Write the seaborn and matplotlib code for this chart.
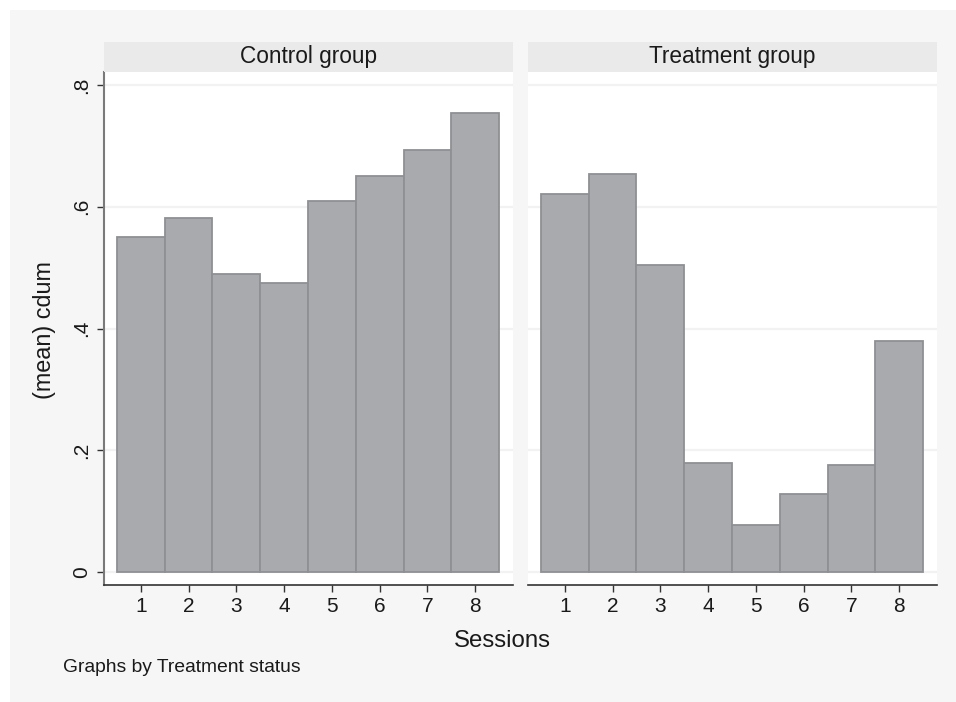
import pandas as pd
import matplotlib
matplotlib.use('Agg')
import matplotlib.pyplot as plt
import seaborn as sns
from matplotlib.patches import Rectangle

sessions = ['1', '2', '3', '4', '5', '6', '7', '8']
control_vals = [0.550, 0.582, 0.490, 0.474, 0.609, 0.650, 0.693, 0.754]
treatment_vals = [0.621, 0.654, 0.504, 0.179, 0.077, 0.128, 0.176, 0.379]
panel_titles = ['Control group', 'Treatment group']
y_ticks = [0, 0.2, 0.4, 0.6, 0.8]
y_tick_labels = ['0', '.2', '.4', '.6', '.8']

sns.set_style('white')
plt.rcParams['font.family'] = ['Liberation Sans', 'DejaVu Sans']

W, H = 956, 702
fig = plt.figure(figsize=(W / 100, H / 100), dpi=100, facecolor='white')

# light gray graph region (white margin top/left)
fig.patches.append(Rectangle((10 / W, 0), 1 - 10 / W, 1 - 10 / H,
                             transform=fig.transFigure, facecolor='#f6f6f6',
                             edgecolor='none', zorder=-10))

bar_color = '#a9aaae'
edge_color = '#8f9094'


def fx(px):
    return px / W


def fy(py):
    return 1 - py / H


panel_lefts = [104, 528]
panel_w = 409
top_y, bottom_y, strip_top = 72, 585, 42

for i, (vals, title) in enumerate(zip([control_vals, treatment_vals], panel_titles)):
    x0 = panel_lefts[i]
    ax = fig.add_axes([fx(x0), fy(bottom_y), panel_w / W, (bottom_y - top_y) / H])
    ax.set_facecolor('white')
    df = pd.DataFrame({'Session': sessions, 'cdum': vals})
    sns.barplot(data=df, x='Session', y='cdum', order=sessions, color=bar_color,
                saturation=1, width=1, edgecolor=edge_color, linewidth=1.3,
                errorbar=None, ax=ax, zorder=3)
    ax.set_xlim(-0.77, 7.79)
    ax.set_ylim(-0.0215, 0.8215)
    for yt in y_ticks:
        ax.axhline(yt, color='#f2f2f2', lw=1.6, zorder=1)
    ax.set_xlabel('')
    ax.set_ylabel('')
    ax.tick_params(axis='x', length=5, width=1, color='#333333', pad=4,
                   labelsize=15, labelcolor='#1a1a1a', bottom=True)
    for s in ['top', 'right']:
        ax.spines[s].set_visible(False)
    ax.spines['bottom'].set_color('#333333')
    ax.spines['bottom'].set_linewidth(1.2)
    if i == 0:
        ax.set_yticks(y_ticks)
        ax.set_yticklabels(y_tick_labels, rotation=90, va='center')
        ax.tick_params(axis='y', length=5, width=1, color='#333333', pad=4,
                       labelsize=15, labelcolor='#1a1a1a', left=True)
        ax.spines['left'].set_color('#7a7a7a')
        ax.spines['left'].set_linewidth(1.5)
    else:
        ax.set_yticks(y_ticks)
        ax.set_yticklabels([])
        ax.tick_params(axis='y', length=0)
        ax.spines['left'].set_visible(False)

    # strip header
    sax = fig.add_axes([fx(x0), fy(top_y), panel_w / W, (top_y - strip_top) / H])
    sax.set_facecolor('#eaeaea')
    sax.set_xticks([])
    sax.set_yticks([])
    for s in sax.spines.values():
        s.set_visible(False)
    sax.text(0.5, 0.5, title, ha='center', va='center', fontsize=16.3,
             color='#1a1a1a', transform=sax.transAxes)

fig.text(fx(502), fy(641), 'Sessions', ha='center', va='center', fontsize=17.3,
         color='#1a1a1a')
fig.text(fx(45), fy(330), '(mean) cdum', ha='center', va='center', fontsize=16.8,
         rotation=90, color='#1a1a1a')
fig.text(fx(63), fy(668), 'Graphs by Treatment status', ha='left', va='center',
         fontsize=13.9, color='#1a1a1a')

fig.savefig('out.png', dpi=100, facecolor='white')
